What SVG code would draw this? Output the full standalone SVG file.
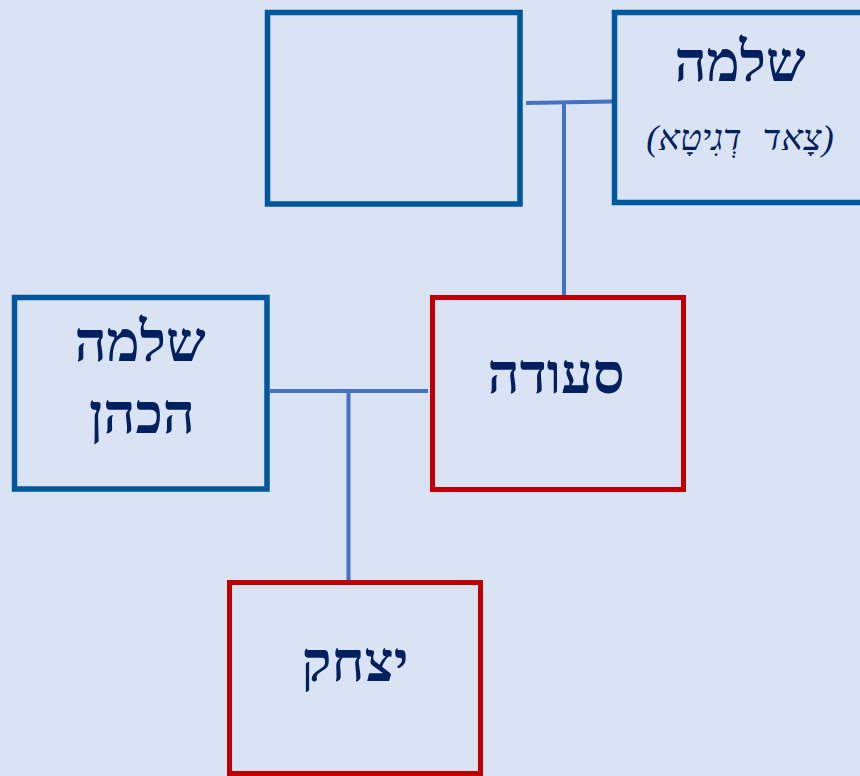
<svg xmlns="http://www.w3.org/2000/svg" width="860" height="776" viewBox="0 0 860 776">
  <style>
    .blue { fill: #dae3f3; stroke: #01579b; stroke-width: 5.5; }
    .red { fill: #dae3f3; stroke: #c00000; stroke-width: 5; }
    .name { font-family: "Liberation Serif", "DejaVu Serif", serif; font-weight: bold; font-size: 56px; fill: #002060; text-anchor: middle; direction: rtl; unicode-bidi: embed; }
    .nick { font-family: "Liberation Serif", "DejaVu Serif", serif; font-style: italic; font-size: 36px; word-spacing: 12px; fill: #002060; text-anchor: middle; direction: rtl; unicode-bidi: embed; }
    .conn { stroke: #4472c4; stroke-width: 4; fill: none; }
  </style>
  <rect x="0" y="0" width="860" height="776" fill="#dae3f3"/>
  <g id="connectors">
    <line class="conn" x1="526" y1="103" x2="612" y2="101.5"/>
    <line class="conn" x1="564" y1="103" x2="564" y2="296"/>
    <line class="conn" x1="270" y1="391" x2="428" y2="391"/>
    <line class="conn" x1="348.5" y1="391" x2="348.5" y2="581"/>
  </g>
  <g id="node-empty">
    <rect class="blue" x="267.5" y="12.5" width="252.5" height="191.5"/>
  </g>
  <g id="node-shlomo-top">
    <rect class="blue" x="614.5" y="12.5" width="260" height="190"/>
    <text class="name" x="740" y="81">שלמה</text>
    <text class="nick" x="740" y="150">(צָאד דְגִיטָא)</text>
  </g>
  <g id="node-shlomo-hakohen">
    <rect class="blue" x="14.5" y="297.5" width="252.5" height="191.5"/>
    <text class="name" x="140" y="361">שלמה</text>
    <text class="name" x="142" y="433">הכהן</text>
  </g>
  <g id="node-seudah">
    <rect class="red" x="432.5" y="297.5" width="251" height="192"/>
    <text class="name" x="556" y="393">סעודה</text>
  </g>
  <g id="node-yitzhak">
    <rect class="red" x="229.5" y="582.5" width="251" height="191"/>
    <text class="name" x="355" y="681">יצחק</text>
  </g>
</svg>
